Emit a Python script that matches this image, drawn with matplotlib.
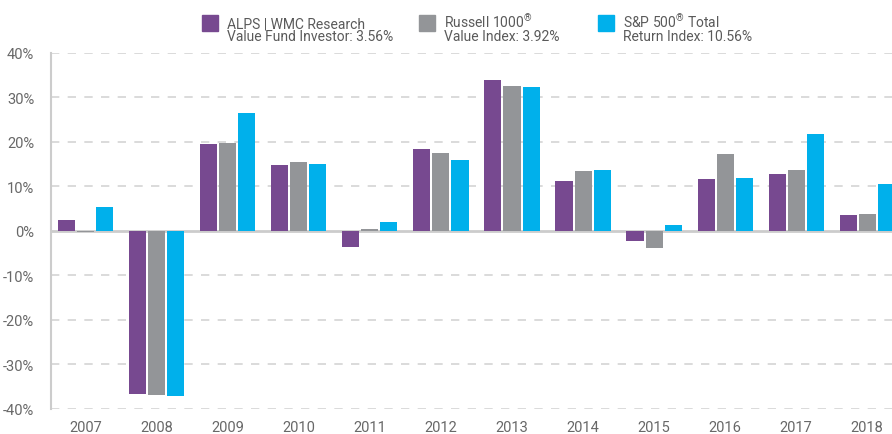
import matplotlib.pyplot as plt
import numpy as np
from matplotlib import rcParams
from matplotlib.patches import Rectangle

rcParams['font.family'] = ['Roboto', 'DejaVu Sans']
rcParams['font.size'] = 10.5
rcParams['mathtext.fontset'] = 'custom'
rcParams['mathtext.rm'] = 'Roboto'

years = ['2007', '2008', '2009', '2010', '2011', '2012', '2013', '2014', '2015', '2016', '2017', '2018']
alps = [2.5, -36.6, 19.6, 14.8, -3.5, 18.4, 34.0, 11.3, -2.2, 11.7, 12.8, 3.56]
russell = [-0.2, -36.85, 19.69, 15.51, 0.39, 17.51, 32.53, 13.45, -3.83, 17.34, 13.66, 3.92]
sp500 = [5.49, -37.0, 26.46, 15.06, 2.11, 16.00, 32.39, 13.69, 1.38, 11.96, 21.83, 10.56]

labels = [('ALPS | WMC Research', 'Value Fund Investor: 3.56%'),
          ('Russell 1000$^{\\mathrm{®}}$', 'Value Index: 3.92%'),
          ('S&P 500$^{\\mathrm{®}}$ Total', 'Return Index: 10.56%')]
colors = ['#774990', '#939598', '#00B0EB']

W, H = 892, 435
fig = plt.figure(figsize=(W / 100, H / 100), dpi=100)
ax = fig.add_axes([0.0572, 0.0575, 0.9428, 0.8184])

x = np.arange(len(years))
width = 0.24
step = 0.268
for i, (vals, c) in enumerate(zip([alps, russell, sp500], colors)):
    ax.bar(x + (i - 1) * step, vals, width, color=c, zorder=3)

ax.set_ylim(-40, 40)
ax.set_xlim(-0.49, 11.35)
ax.set_yticks(np.arange(-40, 41, 10))
ax.set_yticklabels([f'{v}%' for v in range(-40, 41, 10)])
ax.set_xticks(x)
ax.set_xticklabels(years)

for v in range(-40, 41, 10):
    if v != 0:
        ax.axhline(v, color='#d4d4d4', linestyle=(0, (5, 5)), linewidth=1.2, zorder=1)
ax.axhline(0, color='#cccccc', linewidth=2, zorder=2)

for s in ['top', 'right', 'bottom']:
    ax.spines[s].set_visible(False)
ax.spines['left'].set_color('#cccccc')
ax.spines['left'].set_linewidth(1.5)
ax.tick_params(axis='y', length=0, pad=12, colors='#686868', labelsize=10.5)
ax.tick_params(axis='x', length=0, pad=8, colors='#686868', labelsize=10.5)

# legend drawn by hand: square + two text lines
sq_x = [202, 419, 598]
txt_x = [227, 444, 623]
for sx, tx, c, (l1, l2) in zip(sq_x, txt_x, colors, labels):
    fig.add_artist(Rectangle((sx / W, 1 - 32 / H), 16 / W, 16 / H,
                             transform=fig.transFigure, color=c))
    fig.text(tx / W, 1 - 28 / H, l1, ha='left', va='baseline', fontsize=10, color='#5a5a5a')
    fig.text(tx / W, 1 - 41 / H, l2, ha='left', va='baseline', fontsize=10, color='#5a5a5a')

plt.savefig('out.png', dpi=100, facecolor='white')
